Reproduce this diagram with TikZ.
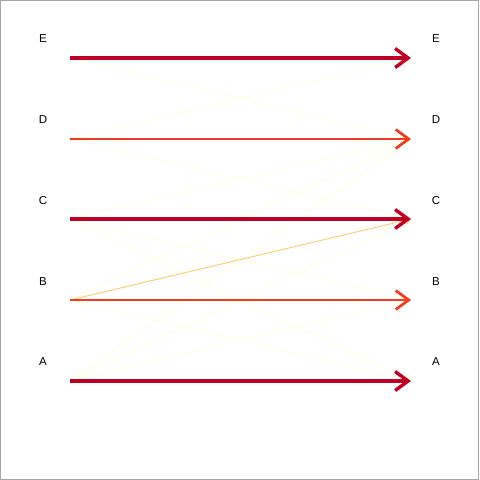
\documentclass[tikz,border=0pt]{standalone}
\usepackage{fontspec}
\setmainfont{Liberation Sans}
\usetikzlibrary{arrows.meta}
\definecolor{darkred}{HTML}{BD0026}
\definecolor{orred}{HTML}{F03B20}
\definecolor{lorange}{HTML}{FECB6A}
\definecolor{faint}{HTML}{FFFFD9}
\tikzset{
  lbl/.style={font=\fontsize{11.5}{13}\selectfont, text=black, inner sep=0pt},
  weak/.style={draw=faint, line width=0.7pt, -{Straight Barb[length=5pt,width=8pt]}},
  mid/.style={draw=lorange, line width=0.9pt, -{Straight Barb[length=5pt,width=8pt]}},
  strongA/.style={draw=darkred, line width=3.4pt, -{Straight Barb[length=13pt,width=19pt]}},
  strongB/.style={draw=orred, line width=2.7pt, -{Straight Barb[length=13pt,width=19pt]}}
}
\begin{document}
\begin{tikzpicture}[x=1pt,y=-1pt]
\fill[white] (0,0) rectangle (480,480);
\useasboundingbox (0,0) rectangle (480,480);
\draw[gray!70, line width=1pt] (0.5,0.5) rectangle (478.5,479.5);
% endpoints
\coordinate (LE) at (70,58);
\coordinate (LD) at (70,139);
\coordinate (LC) at (70,219);
\coordinate (LB) at (70,300);
\coordinate (LA) at (70,381);
\coordinate (RE) at (411,58);
\coordinate (RD) at (411,139);
\coordinate (RC) at (411,219);
\coordinate (RB) at (411,300);
\coordinate (RA) at (411,381);
% labels
\node[lbl] (tLE) at (43,38.5) {E};
\node[lbl] (tLD) at (43,119.5) {D};
\node[lbl] (tLC) at (43,200.5) {C};
\node[lbl] (tLB) at (43,281.5) {B};
\node[lbl] (tLA) at (43,361.5) {A};
\node[lbl] (tRE) at (436,38.5) {E};
\node[lbl] (tRD) at (436,119.5) {D};
\node[lbl] (tRC) at (436,200.5) {C};
\node[lbl] (tRB) at (436,281.5) {B};
\node[lbl] (tRA) at (436,361.5) {A};
% faint edges
\draw[weak] (LE) -- (RD);
\draw[weak] (LD) -- (RE);
\draw[weak] (LD) -- (RC);
\draw[weak] (LC) -- (RD);
\draw[weak] (LC) -- (RB);
\draw[weak] (LC) -- (RA);
\draw[weak] (LB) -- (RD);
\draw[weak] (LB) -- (RA);
\draw[weak] (LA) -- (RD);
\draw[weak] (LA) -- (RC);
\draw[weak] (LA) -- (RB);
\draw[mid] (LB) -- (RC);
% strong edges
\draw[strongA] (LE) -- (RE);
\draw[strongB] (LD) -- (RD);
\draw[strongA] (LC) -- (RC);
\draw[strongB] (LB) -- (RB);
\draw[strongA] (LA) -- (RA);
\end{tikzpicture}
\end{document}
